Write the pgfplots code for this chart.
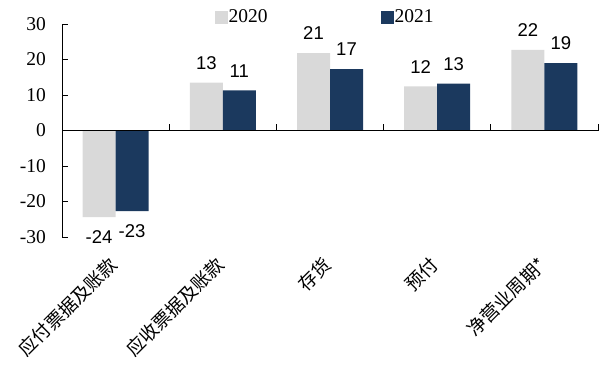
\documentclass[border=0pt]{standalone}
\usepackage{fontspec}
\setmainfont{Liberation Serif}
\newfontfamily\arial{Liberation Sans}
\newfontfamily\cjk{Noto Sans CJK SC}
\usepackage{pgfplots}
\usepackage{pgfplotstable}
\pgfplotsset{compat=1.18}
\definecolor{c2020}{RGB}{217,217,217}
\definecolor{c2021}{RGB}{27,57,94}
\pgfplotstableread{
x a la b lb
0 -24.4 -24 -22.7 -23
1 13.5 13 11.3 11
2 21.8 21 17.3 17
3 12.4 12 13.2 13
4 22.7 22 19.0 19
}\data
\begin{document}
\begin{tikzpicture}
\path[use as bounding box] (-62pt,-130pt) rectangle (539pt,237pt);
\begin{axis}[
  scale only axis, width=536pt, height=213pt,
  xmin=-0.5, xmax=4.5, ymin=-30, ymax=30,
  axis x line*=bottom, axis y line*=left,
  x axis line style={draw=none},
  y axis line style={black, line width=0.8pt},
  xtick={0,1,2,3,4},
  xticklabels={应付票据及账款,应收票据及账款,存货,预付,净营业周期*},
  xtick style={draw=none},
  xticklabel style={font=\cjk\fontsize{18.5}{18.5}\selectfont, yshift=-18pt, xshift=-2pt, rotate=45, anchor=east, inner sep=0pt},
  ytick={-30,-20,-10,0,10,20,30},
  ytick align=inside,
  major tick length=6pt,
  ytick style={black, line width=0.8pt},
  yticklabel style={font=\fontsize{19.5}{20}\selectfont, xshift=-12.5pt},
  /pgf/number format/assume math mode=true,
  ybar, bar width=33pt,
  point meta=explicit symbolic,
  visualization depends on={rawy \as \myy},
  nodes near coords,
  nodes near coords style={font=\arial\fontsize{18.5}{19}\selectfont, inner ysep=13pt, inner xsep=0pt, black,
    anchor=\ifdim \myy pt<0pt north\else south\fi},
  legend style={at={(0.49,1)}, anchor=center, yshift=7pt, draw=none, fill=none,
    font=\fontsize{19.5}{20}\selectfont, nodes={inner sep=1pt},
    /tikz/every even column/.append style={column sep=112pt}},
  legend columns=2,
  legend image code/.code={\fill[#1] (0pt,-6.5pt) rectangle (13pt,6.5pt);},
  clip=false,
]
\addplot[fill=c2020, draw=none, bar shift=-16.5pt] table[x=x, y=a, meta=la] {\data};
\addlegendentry{2020}
\addplot[fill=c2021, draw=none, bar shift=16.5pt] table[x=x, y=b, meta=lb] {\data};
\addlegendentry{2021}
\draw[black, line width=0.8pt] (axis cs:-0.5,0) -- (axis cs:4.5,0);
\draw[black, line width=0.8pt] (axis cs:0.5,0) -- (axis cs:0.5,1.7);
\draw[black, line width=0.8pt] (axis cs:1.5,0) -- (axis cs:1.5,1.7);
\draw[black, line width=0.8pt] (axis cs:2.5,0) -- (axis cs:2.5,1.7);
\draw[black, line width=0.8pt] (axis cs:3.5,0) -- (axis cs:3.5,1.7);
\draw[black, line width=0.8pt] (axis cs:4.5,0) -- (axis cs:4.5,1.7);
\end{axis}
\end{tikzpicture}
\end{document}
